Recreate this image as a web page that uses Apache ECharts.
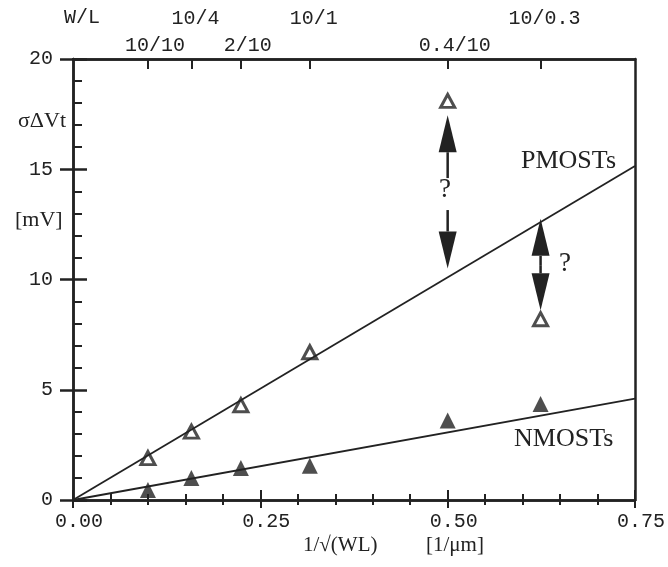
<!DOCTYPE html>
<html>
<head>
<meta charset="utf-8">
<script src="https://cdn.jsdelivr.net/npm/echarts@6/dist/echarts.min.js"></script>
<style>
  html, body { margin: 0; padding: 0; background: #fff; }
  #main { width: 668px; height: 567px; }
</style>
</head>
<body>
<div id="main"></div>
<script>
// 数据
var xPos = [0.1, 0.158, 0.224, 0.316, 0.5, 0.624];      // 1/sqrt(WL)
var pmos = [1.9, 3.1, 4.3, 6.7, 18.1, 8.2];              // 空心三角
var nmos = [0.45, 1.0, 1.45, 1.55, 3.6, 4.35];           // 实心三角
var pmosFit = [[0, 0], [0.75, 15.15]];
var nmosFit = [[0, 0], [0.75, 4.6]];
var topTickPos = [0.1, 0.158, 0.224, 0.316, 0.5, 0.624];
var topTickLabels = ["10/10", "10/4", "2/10", "10/1", "0.4/10", "10/0.3"];
// 箭头: [x, 起点, 终点]
var arrows = [[0.5, 14.6, 17.45], [0.5, 13.15, 10.5], [0.624, 10.65, 12.75], [0.624, 10.65, 8.6]];

var ink = "#222";
var mono = "Liberation Mono";
var serif = "Liberation Serif";

function pick(list) {
  return function(v) {
    for (var i = 0; i < topTickPos.length; i++) {
      if (Math.abs(topTickPos[i] - v) < 1e-6) return list.indexOf(i) >= 0 ? topTickLabels[i] : "";
    }
    return "";
  };
}
var lowerRow = [0, 2, 4];
var upperRow = [1, 3, 5];

var chart = echarts.init(document.getElementById("main"));

var baseX = {
  type: "value", min: 0, max: 0.75, interval: 0.25,
  splitLine: { show: false },
  axisLine: { onZero: false, lineStyle: { color: ink, width: 2.5 } }
};
var baseY = {
  type: "value", min: 0, max: 20, interval: 5,
  splitLine: { show: false },
  axisLine: { onZero: false, lineStyle: { color: ink, width: 2.5 } }
};

var option = {
  backgroundColor: "#fff",
  animation: false,
  grid: { left: 73, right: 31, top: 59, bottom: 67 },
  xAxis: [
    Object.assign({}, baseX, {
      position: "bottom",
      axisTick: { inside: true, length: 10, lineStyle: { color: ink, width: 2 } },
      minorTick: { show: true, splitNumber: 5, length: 6, lineStyle: { color: ink, width: 2 } },
      axisLabel: {
        margin: 12, color: ink, fontFamily: mono, fontSize: 20, padding: [0, 0, 0, 12],
        formatter: function(v) { return v.toFixed(2); }
      }
    }),
    Object.assign({}, baseX, {
      position: "bottom",
      axisTick: { inside: false, length: 8, lineStyle: { color: ink, width: 2 } },
      minorTick: { show: true, splitNumber: 5, length: 5, lineStyle: { color: ink, width: 2 } },
      axisLabel: { show: false }
    }),
    Object.assign({}, baseX, {
      position: "top",
      axisTick: { inside: true, length: 10, customValues: topTickPos, lineStyle: { color: ink, width: 2 } },
      axisLabel: {
        customValues: topTickPos, margin: 3, color: ink, fontFamily: mono, fontSize: 20,
        padding: [0, 0, 0, 14], formatter: pick(lowerRow)
      }
    }),
    Object.assign({}, baseX, {
      position: "top",
      axisTick: { show: false },
      axisLabel: {
        customValues: topTickPos, margin: 30, color: ink, fontFamily: mono, fontSize: 20,
        padding: [0, 0, 0, 8], formatter: pick(upperRow)
      }
    })
  ],
  yAxis: [
    Object.assign({}, baseY, {
      position: "left",
      axisTick: { inside: true, length: 14, lineStyle: { color: ink, width: 2.5 } },
      minorTick: { show: true, splitNumber: 5, length: 9, lineStyle: { color: ink, width: 2 } },
      axisLabel: { margin: 20, color: ink, fontFamily: mono, fontSize: 20 }
    }),
    Object.assign({}, baseY, {
      position: "left",
      axisTick: { inside: false, length: 13, lineStyle: { color: ink, width: 2.5 } },
      axisLabel: { show: false }
    }),
    Object.assign({}, baseY, {
      position: "right",
      axisTick: { show: false },
      axisLabel: { show: false }
    })
  ],
  graphic: [
    { type: "text", left: 64, top: 8, style: { text: "W/L", font: "20px " + mono, fill: ink } },
    { type: "text", left: 18, top: 110, style: { text: "σΔVt", font: "22px " + serif, fill: ink } },
    { type: "text", left: 15, top: 209, style: { text: "[mV]", font: "22px " + serif, fill: ink } },
    { type: "text", left: 303, top: 535, style: { text: "1/√(WL)", font: "21px " + serif, fill: ink } },
    { type: "text", left: 426, top: 535, style: { text: "[1/μm]", font: "21px " + serif, fill: ink } },
    { type: "text", left: 521, top: 148, style: { text: "PMOSTs", font: "26px " + serif, fill: ink } },
    { type: "text", left: 514, top: 426, style: { text: "NMOSTs", font: "26px " + serif, fill: ink } },
    { type: "text", left: 439, top: 176, style: { text: "?", font: "27px " + serif, fill: ink } },
    { type: "text", left: 559, top: 250, style: { text: "?", font: "27px " + serif, fill: ink } }
  ],
  series: [
    {
      name: "PMOSTs fit", type: "line", xAxisIndex: 0, yAxisIndex: 0,
      data: pmosFit, showSymbol: false, lineStyle: { color: ink, width: 1.8 }
    },
    {
      name: "NMOSTs fit", type: "line", xAxisIndex: 0, yAxisIndex: 0,
      data: nmosFit, showSymbol: false, lineStyle: { color: ink, width: 1.8 }
    },
    {
      name: "PMOSTs", type: "scatter", xAxisIndex: 0, yAxisIndex: 0,
      data: xPos.map(function(x, i) { return [x, pmos[i]]; }),
      symbol: "triangle", symbolSize: [14, 13],
      itemStyle: { color: "#fff", borderColor: ink, borderWidth: 3 }
    },
    {
      name: "NMOSTs", type: "scatter", xAxisIndex: 0, yAxisIndex: 0,
      data: xPos.map(function(x, i) { return [x, nmos[i]]; }),
      symbol: "triangle", symbolSize: [16, 16],
      itemStyle: { color: ink }
    },
    {
      name: "arrows", type: "custom", xAxisIndex: 0, yAxisIndex: 0,
      data: arrows,
      renderItem: function(params, api) {
        var p0 = api.coord([api.value(0), api.value(1)]);
        var p1 = api.coord([api.value(0), api.value(2)]);
        var dir = p1[1] > p0[1] ? 1 : -1;
        var headLen = 37, headW = 18;
        var base = p1[1] - dir * headLen;
        return {
          type: "group",
          children: [
            { type: "line", shape: { x1: p0[0], y1: p0[1], x2: p0[0], y2: base },
              style: { stroke: ink, lineWidth: 2.5 } },
            { type: "polygon", shape: { points: [[p1[0], p1[1]], [p1[0] - headW / 2, base], [p1[0] + headW / 2, base]] },
              style: { fill: ink } }
          ]
        };
      }
    }
  ]
};

chart.setOption(option);
</script>
</body>
</html>
